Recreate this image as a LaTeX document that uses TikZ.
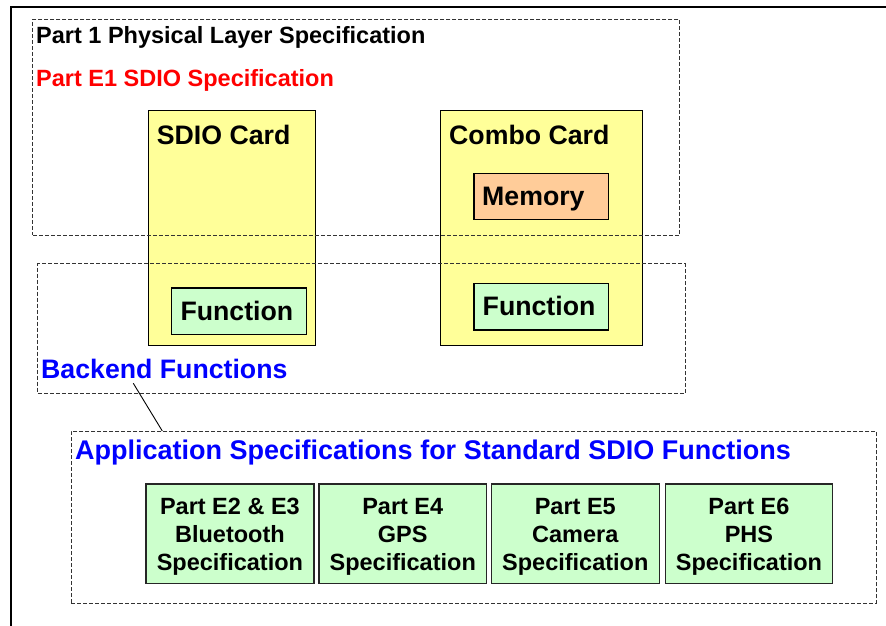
\documentclass[tikz,border=0pt]{standalone}
\usepackage{fontspec}
\setmainfont{Liberation Sans}
\definecolor{cardyellow}{HTML}{FFFF99}
\definecolor{fngreen}{HTML}{CCFFCC}
\definecolor{memorange}{HTML}{FFCC99}
\definecolor{tblue}{HTML}{0000FF}
\definecolor{tred}{HTML}{FF0000}
\newcommand{\topstrut}{\rule{0pt}{22.4pt}}
\begin{document}
\begin{tikzpicture}[x=1pt,y=-1pt,
  card/.style={draw=black, line width=1.3pt, fill=cardyellow, rectangle, inner sep=0pt, anchor=north west},
  fnbox/.style={draw=black, line width=1.2pt, fill=fngreen, rectangle, inner sep=0pt, anchor=north west},
  membox/.style={draw=black, line width=1.2pt, fill=memorange, rectangle, inner sep=0pt, anchor=north west},
  specbox/.style={draw=black!85, line width=1.2pt, fill=fngreen, rectangle, inner sep=0pt, anchor=north west,
     align=center, font=\fontsize{23.5}{28}\selectfont\bfseries},
  region/.style={draw=black!80, line width=0.9pt, dash pattern=on 4pt off 2pt, rectangle, inner sep=0pt, anchor=north west},
  small/.style={inner sep=0pt, anchor=base west, font=\fontsize{23.5}{28}\selectfont\bfseries},
  big/.style={inner sep=0pt, anchor=base west, font=\fontsize{26.7}{32}\selectfont\bfseries},
]
\useasboundingbox (0,0) rectangle (886,626);
% outer frame
\coordinate (fbl) at (10.5,630);
\coordinate (ftl) at (10.5,7.5);
\coordinate (ftr) at (890,7.5);
\draw[line width=2pt] (fbl) -- (ftl) -- (ftr);

% cards
\node[card, minimum width=167pt, minimum height=235pt] (sdio) at (148,110) {};
\node[card, minimum width=202.5pt, minimum height=235pt] (combo) at (439.5,110) {};
\node[big] (sdiolbl) at (156.7,144) {SDIO Card};
\node[big] (combolbl) at (449,144) {Combo Card};
\node[membox, minimum width=134.5pt, minimum height=46.5pt] (mem) at (473.3,172.7) {};
\node[big] (memlbl) at (482,205) {Memory};
\node[fnbox, minimum width=134.7pt, minimum height=46.7pt] (fn1) at (171,287.3) {};
\node[big] (fn1lbl) at (180.3,320.7) {Function};
\node[fnbox, minimum width=134.7pt, minimum height=46.7pt] (fn2) at (473.3,282.7) {};
\node[big] (fn2lbl) at (482.5,315.7) {Function};

% spec boxes
\node[specbox, minimum width=168pt, minimum height=99.7pt] (e23) at (145.3,483.3) {\topstrut Part E2 \& E3\\Bluetooth\\Specification};
\node[specbox, minimum width=167.7pt, minimum height=99.7pt] (e4) at (318.3,483.3) {\topstrut Part E4\\GPS\\Specification};
\node[specbox, minimum width=168pt, minimum height=99.7pt] (e5) at (490.7,483.3) {\topstrut Part E5\\Camera\\Specification};
\node[specbox, minimum width=166.7pt, minimum height=99.7pt] (e6) at (665,483.3) {\topstrut Part E6\\PHS\\Specification};

% dashed regions
\node[region, minimum width=647pt, minimum height=215.5pt] (phys) at (32.3,19) {};
\node[region, minimum width=647.4pt, minimum height=129.4pt] (backend) at (37.3,263.3) {};
\node[region, minimum width=805pt, minimum height=172pt] (app) at (71,431) {};

% region titles
\node[small] (p1lbl) at (36,44) {Part 1 Physical Layer Specification};
\node[small, text=tred] (e1lbl) at (36,86.7) {Part E1 SDIO Specification};
\node[big, text=tblue] (bflbl) at (41,378.3) {Backend Functions};
\node[big, text=tblue, font=\fontsize{27}{32}\selectfont\bfseries] (applbl) at (75,459.3) {Application Specifications for Standard SDIO Functions};

% connector
\coordinate (cstart) at (133.3,383.3);
\coordinate (cend) at (162.3,431);
\draw[line width=0.9pt] (cstart) -- (cend);
\end{tikzpicture}
\end{document}
